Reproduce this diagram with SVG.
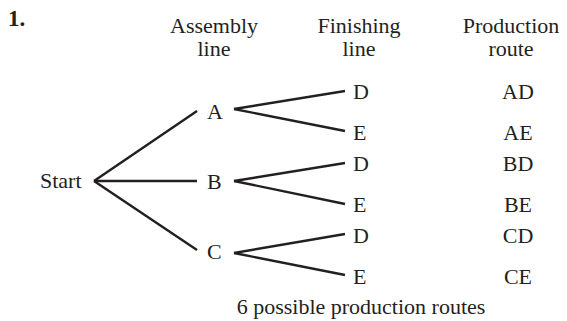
<svg xmlns="http://www.w3.org/2000/svg" width="567" height="321" viewBox="0 0 567 321">
<style>
text{font-family:"Liberation Serif","Times New Roman",serif;font-size:22px;fill:#231f20}
.h{text-anchor:middle}
.r{text-anchor:middle}
.b{font-weight:bold;font-size:23px}
#connectors line{stroke:#231f20;stroke-width:2.4;stroke-linecap:butt}
</style>
<rect width="567" height="321" fill="#fff"/>
<text class="b" x="8" y="26">1.</text>
<g id="headers">
<text class="h" x="214" y="33">Assembly</text>
<text class="h" x="214" y="56">line</text>
<text class="h" x="359" y="33">Finishing</text>
<text class="h" x="359" y="56">line</text>
<text class="h" x="511" y="33">Production</text>
<text class="h" x="511" y="56">route</text>
</g>
<g id="connectors">
<line x1="94" y1="181" x2="197" y2="111"/>
<line x1="94" y1="181" x2="197" y2="181"/>
<line x1="94" y1="181" x2="197" y2="250"/>
<line x1="234" y1="109" x2="345" y2="91"/>
<line x1="234" y1="109" x2="345" y2="131"/>
<line x1="234" y1="181" x2="345" y2="163"/>
<line x1="234" y1="181" x2="345" y2="204"/>
<line x1="234" y1="253" x2="345" y2="234"/>
<line x1="234" y1="253" x2="345" y2="275"/>
</g>
<g id="start"><text x="40" y="188">Start</text></g>
<g id="A"><text x="207" y="119">A</text></g>
<g id="B"><text x="207" y="189">B</text></g>
<g id="C"><text x="207" y="259">C</text></g>
<g id="AD"><text x="353" y="99">D</text></g>
<g id="AE"><text x="353" y="140">E</text></g>
<g id="BD"><text x="353" y="171">D</text></g>
<g id="BE"><text x="353" y="212">E</text></g>
<g id="CD"><text x="353" y="243">D</text></g>
<g id="CE"><text x="353" y="284">E</text></g>
<g id="routes">
<text class="r" x="518" y="99">AD</text>
<text class="r" x="518" y="140">AE</text>
<text class="r" x="518" y="171">BD</text>
<text class="r" x="518" y="212">BE</text>
<text class="r" x="518" y="243">CD</text>
<text class="r" x="518" y="284">CE</text>
</g>
<text class="h" x="361" y="314">6 possible production routes</text>
</svg>
